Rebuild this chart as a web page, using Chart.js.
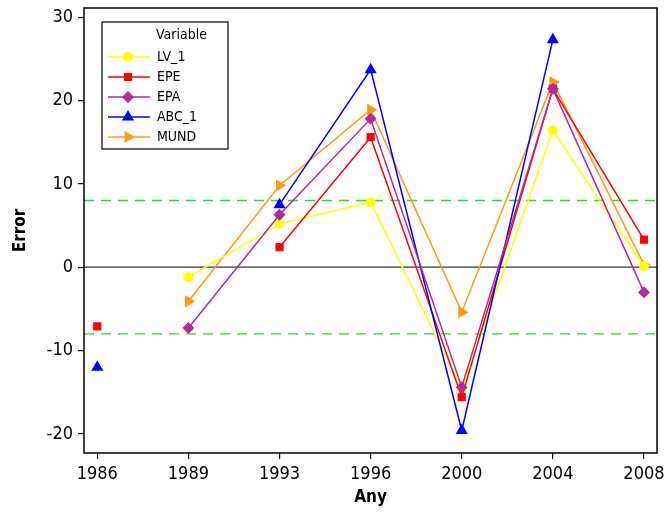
<!DOCTYPE html>
<html lang="en">
<head>
  <meta charset="UTF-8" />
  <title>Error per any</title>
  <script src="https://cdn.jsdelivr.net/npm/chart.js"></script>
  <style>
    body { margin: 0; padding: 0; background: #fff; }
    #wrap { width: 664px; height: 513px; }
  </style>
</head>
<body>
  <div id="wrap"><canvas id="chart"></canvas></div>

  <script>
    const years = ['1986', '1989', '1993', '1996', '2000', '2004', '2008'];

    const lv1   = [null, -1.2, 5.2, 7.8, -14.6, 16.4, 0.1];
    const epe   = [-7.1, null, 2.4, 15.6, -15.6, 21.4, 3.3];
    const epa   = [null, -7.3, 6.3, 17.8, -14.4, 21.4, -3.0];
    const abc1  = [-12.0, null, 7.5, 23.7, -19.6, 27.3, null];
    const mund  = [null, -4.1, 9.8, 18.9, -5.4, 22.2, 0.3];

    const limitLines = [8, -8];
    const zeroLine = 0;

    const FONT = '"DejaVu Sans Condensed", "DejaVu Sans", sans-serif';

    const series = [
      { label: 'LV_1',  data: lv1,  color: '#FFFF00', style: 'circle',   radius: 5,   rot: 0 },
      { label: 'EPE',   data: epe,  color: '#FF0000', style: 'rect',     radius: 5.8, rot: 0 },
      { label: 'EPA',   data: epa,  color: '#B4289E', style: 'rectRot',  radius: 6,   rot: 0 },
      { label: 'ABC_1', data: abc1, color: '#0000FF', style: 'triangle', radius: 7,   rot: 0 },
      { label: 'MUND',  data: mund, color: '#FF9914', style: 'triangle', radius: 7,   rot: 90 }
    ];

    const datasets = series.map((s, k) => ({
      label: s.label,
      data: s.data.map((v, i) => ({ x: i, y: v })),
      borderColor: s.color,
      backgroundColor: s.color,
      borderWidth: 1.5,
      pointStyle: s.style,
      pointRadius: s.radius,
      pointRotation: s.rot,
      pointBorderWidth: 0,
      spanGaps: false,
      tension: 0,
      order: [4, 3, 1, 2, 5][k]
    }));

    // frame, reference lines and legend box
    const extras = {
      id: 'extras',
      beforeDatasetsDraw(chart) {
        const { ctx, chartArea: a, scales: { y } } = chart;
        ctx.save();
        ctx.lineWidth = 1.3;
        ctx.strokeStyle = '#22DD22';
        ctx.setLineDash([10, 7]);
        limitLines.forEach(v => {
          const py = y.getPixelForValue(v);
          ctx.beginPath();
          ctx.moveTo(a.left, py);
          ctx.lineTo(a.right, py);
          ctx.stroke();
        });
        ctx.setLineDash([]);
        ctx.strokeStyle = '#333';
        const pz = y.getPixelForValue(zeroLine);
        ctx.beginPath();
        ctx.moveTo(a.left, pz);
        ctx.lineTo(a.right, pz);
        ctx.stroke();
        ctx.restore();
      },
      afterDraw(chart) {
        const { ctx, chartArea: a } = chart;
        ctx.save();
        ctx.strokeStyle = '#000';
        ctx.lineWidth = 1.5;
        ctx.strokeRect(a.left, a.top, a.right - a.left, a.bottom - a.top);

        // legend
        ctx.lineWidth = 1.2;
        ctx.strokeRect(102, 22, 126, 127);
        ctx.fillStyle = '#000';
        ctx.font = '14px ' + FONT;
        ctx.textBaseline = 'middle';
        ctx.fillText('Variable', 156, 35);
        series.forEach((s, i) => {
          const yy = 57 + i * 20;
          ctx.strokeStyle = s.color;
          ctx.lineWidth = 1.5;
          ctx.beginPath();
          ctx.moveTo(108, yy);
          ctx.lineTo(150, yy);
          ctx.stroke();
          ctx.fillStyle = s.color;
          Chart.helpers.drawPoint(ctx, {
            pointStyle: s.style, radius: s.radius, rotation: s.rot, borderWidth: 0
          }, 128, yy);
          ctx.fillStyle = '#000';
          ctx.fillText(s.label, 157, yy);
        });
        ctx.restore();
      }
    };

    new Chart(document.getElementById('chart'), {
      type: 'line',
      data: { datasets: datasets },
      options: {
        responsive: true,
        maintainAspectRatio: false,
        animation: false,
        layout: { padding: { top: 8, right: 7, left: 0, bottom: 0 } },
        plugins: {
          legend: { display: false },
          tooltip: { enabled: false }
        },
        scales: {
          x: {
            type: 'linear',
            min: -0.146,
            max: 6.143,
            afterFit(scale) {
              scale.height = 60;
              scale.paddingLeft = 0;
              scale.paddingRight = 0;
            },
            afterBuildTicks(scale) {
              scale.ticks = years.map((_, i) => ({ value: i }));
            },
            ticks: {
              color: '#000',
              font: { family: FONT, size: 18 },
              padding: 5,
              maxRotation: 0,
              callback: v => years[v]
            },
            grid: {
              drawOnChartArea: false,
              drawTicks: true,
              tickLength: 6,
              color: '#000',
              lineWidth: 1.2
            },
            border: { display: false },
            title: {
              display: true,
              text: 'Any',
              color: '#000',
              font: { family: FONT, size: 17, weight: 'bold' },
              padding: { top: 0, bottom: 5 }
            }
          },
          y: {
            min: -22.3,
            max: 31.1,
            afterFit(scale) {
              scale.width = 84;
              scale.paddingTop = 0;
              scale.paddingBottom = 0;
            },
            ticks: {
              stepSize: 10,
              includeBounds: false,
              color: '#000',
              font: { family: FONT, size: 18 },
              padding: 5
            },
            grid: {
              drawOnChartArea: false,
              drawTicks: true,
              tickLength: 6,
              color: '#000',
              lineWidth: 1.2
            },
            border: { display: false },
            title: {
              display: true,
              text: 'Error',
              color: '#000',
              font: { family: FONT, size: 17, weight: 'bold' },
              padding: { top: 10, bottom: 0 }
            }
          }
        }
      },
      plugins: [extras]
    });
  </script>
</body>
</html>
